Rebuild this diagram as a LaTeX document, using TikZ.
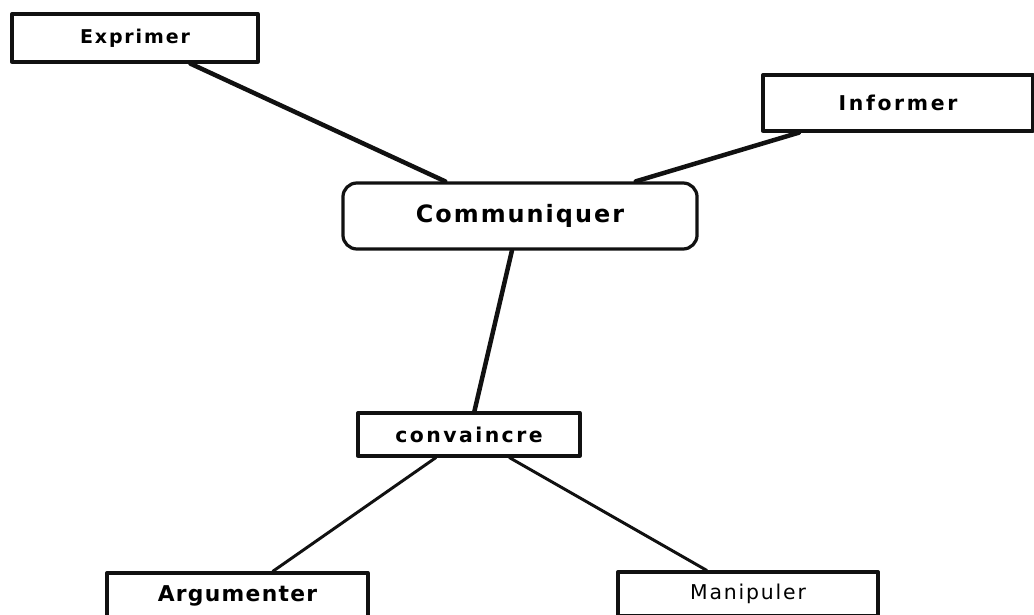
\documentclass[tikz,border=0pt]{standalone}
\usepackage{fontspec}
\setmainfont{DejaVu Sans}
\usepackage{xcolor}
\definecolor{inkC}{HTML}{111111}
\definecolor{paperC}{HTML}{FFFFFF}

\begin{document}
\begin{tikzpicture}[
  x=0.025cm,
  y=-0.025cm,
  line cap=round,
  line join=round,
  box/.style={draw=inkC, line width=2.3pt, fill=paperC, inner sep=0pt},
  link/.style={inkC, line width=3.2pt},
  thinlink/.style={inkC, line width=2.1pt}
]

\useasboundingbox (0,0) rectangle (1034,615);
\clip (0,0) rectangle (1034,615);
\fill[paperC] (0,0) rectangle (1034,615);

\coordinate (E) at (135,38);
\coordinate (I) at (898,103);
\coordinate (K) at (520,216);
\coordinate (V) at (469,434.5);
\coordinate (A) at (237.5,596);
\coordinate (M) at (748,594);

% Boxes
\node[box, minimum width=6.15cm, minimum height=1.2cm] (exprimer) at (E)
  {\fontsize{13.5}{15}\selectfont\bfseries\addfontfeature{LetterSpace=10}Exprimer};
\node[box, minimum width=6.75cm, minimum height=1.4cm] (informer) at (I)
  {\fontsize{14.5}{16}\selectfont\bfseries\addfontfeature{LetterSpace=13}Informer};
\node[box, rounded corners=0.35cm, minimum width=8.85cm, minimum height=1.65cm] (communiquer) at (K)
  {\fontsize{17}{19}\selectfont\bfseries\addfontfeature{LetterSpace=8.4}Communiquer};
\node[box, minimum width=5.55cm, minimum height=1.075cm] (convaincre) at (V)
  {\fontsize{14.5}{16}\selectfont\bfseries\addfontfeature{LetterSpace=12}convaincre};
\node[box, minimum width=6.525cm, minimum height=1.15cm] (argumenter) at (A)
  {\fontsize{15.5}{17}\selectfont\bfseries\addfontfeature{LetterSpace=6}Argumenter};
\node[box, minimum width=6.5cm, minimum height=1.1cm] (manipuler) at (M)
  {\fontsize{14.5}{16}\selectfont\addfontfeature{LetterSpace=9}Manipuler};

% Links
\draw[link] (exprimer) -- (communiquer);
\draw[link] (informer) -- (communiquer);
\draw[link] (communiquer) -- (convaincre);
\draw[thinlink] (convaincre) -- (argumenter);
\draw[thinlink] (convaincre) -- (manipuler);

\end{tikzpicture}
\end{document}
